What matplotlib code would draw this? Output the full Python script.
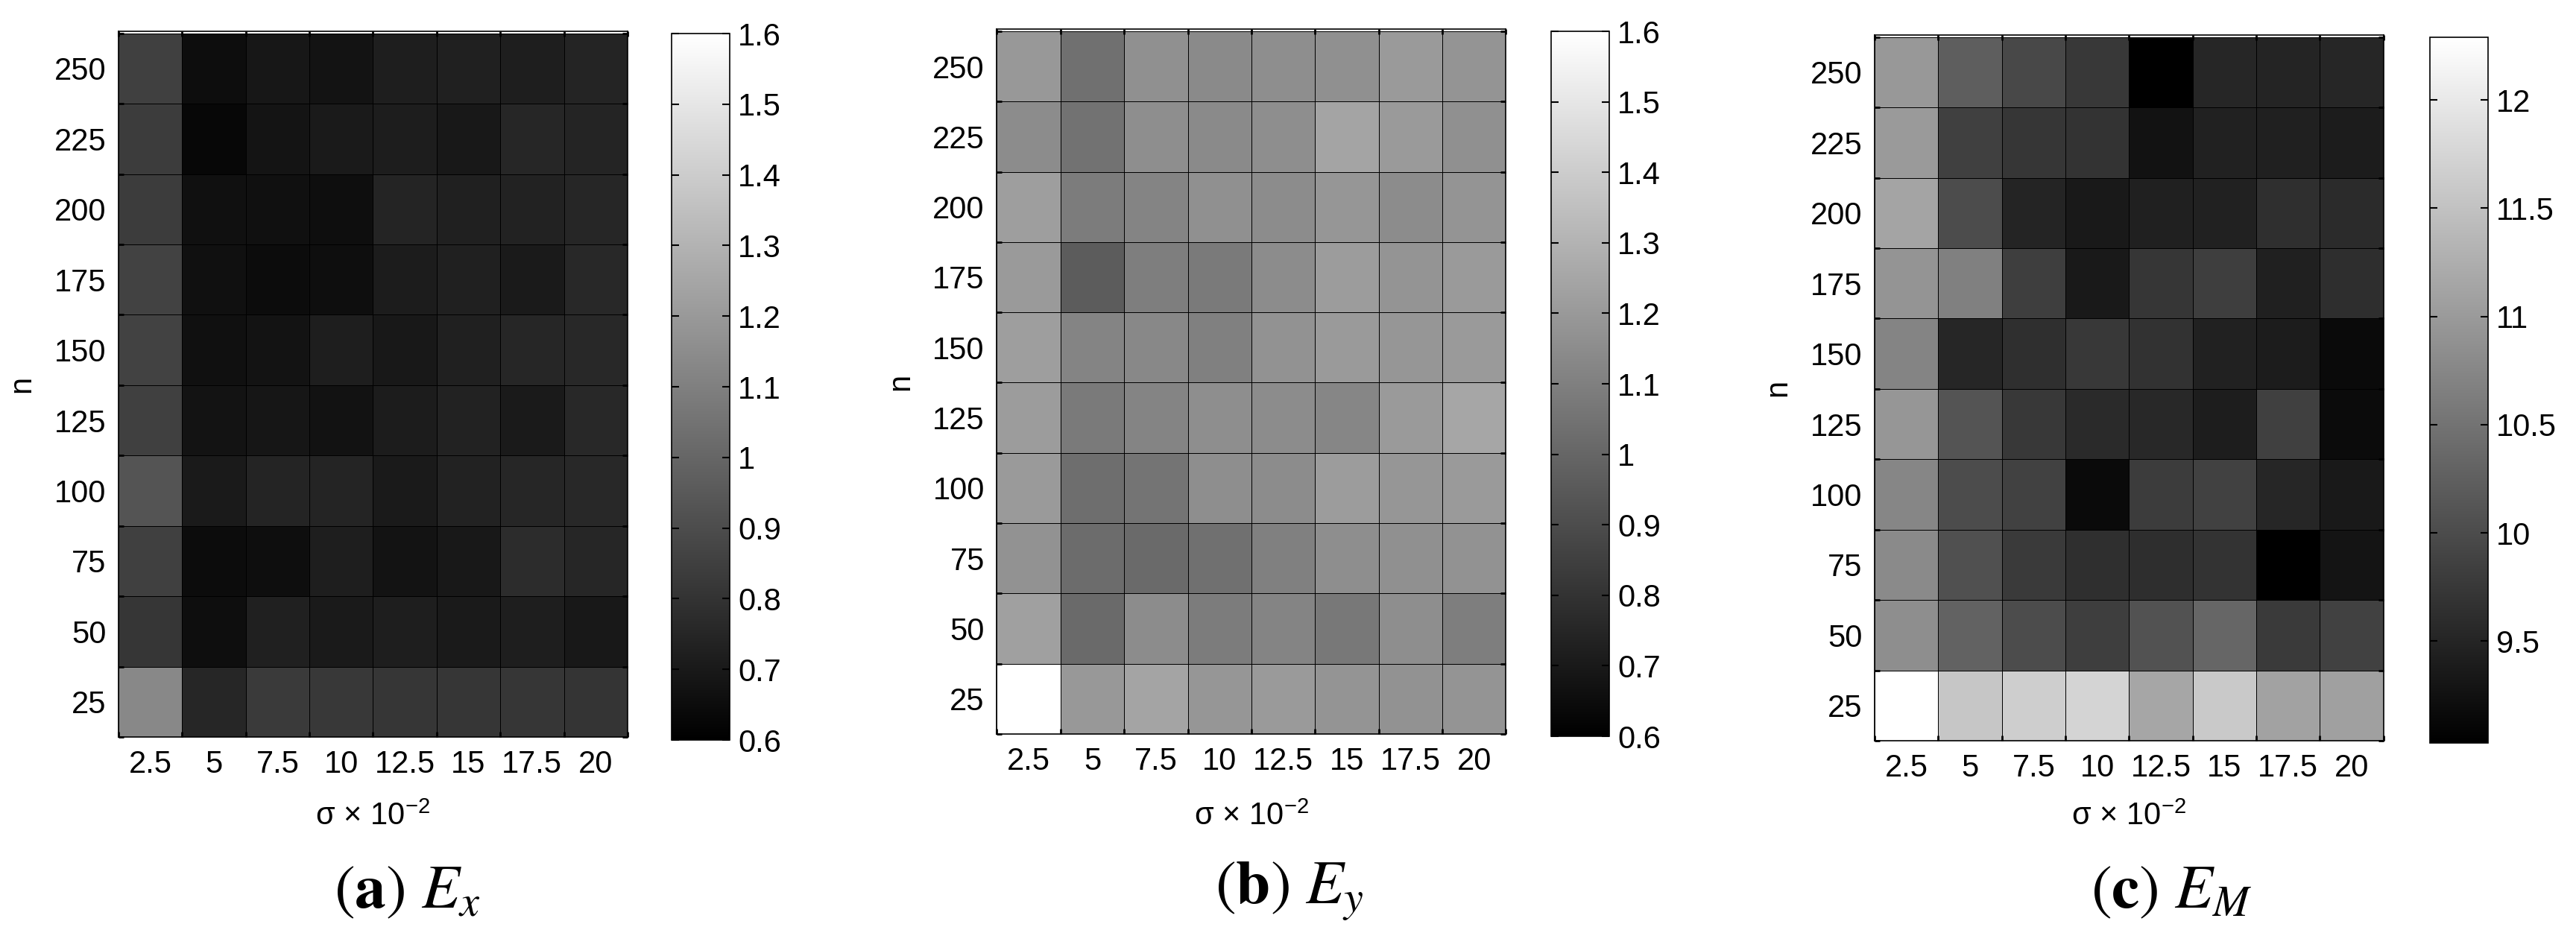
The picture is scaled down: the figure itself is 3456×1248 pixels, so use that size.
import numpy as np
import matplotlib
matplotlib.use("Agg")
import matplotlib.pyplot as plt
from matplotlib.ticker import FormatStrFormatter

plt.rcParams['font.family'] = ['Liberation Sans', 'DejaVu Sans']
plt.rcParams['mathtext.fontset'] = 'stix'

sigma_labels = ["2.5", "5", "7.5", "10", "12.5", "15", "17.5", "20"]
n_labels = ["25", "50", "75", "100", "125", "150", "175", "200", "225", "250"]

# rows: n = 25 (bottom) ... 250 (top); columns: sigma = 2.5 ... 20
ex_vals = [
    [1.133, 0.749, 0.827, 0.820, 0.812, 0.812, 0.812, 0.804],
    [0.812, 0.655, 0.725, 0.702, 0.718, 0.702, 0.718, 0.694],
    [0.851, 0.647, 0.655, 0.718, 0.678, 0.694, 0.773, 0.749],
    [0.929, 0.702, 0.741, 0.741, 0.702, 0.733, 0.749, 0.757],
    [0.851, 0.678, 0.686, 0.671, 0.710, 0.733, 0.702, 0.757],
    [0.859, 0.663, 0.678, 0.718, 0.694, 0.725, 0.749, 0.757],
    [0.859, 0.663, 0.647, 0.655, 0.710, 0.725, 0.702, 0.757],
    [0.835, 0.663, 0.663, 0.655, 0.741, 0.725, 0.733, 0.749],
    [0.835, 0.631, 0.682, 0.702, 0.714, 0.694, 0.749, 0.741],
    [0.851, 0.651, 0.690, 0.678, 0.718, 0.725, 0.718, 0.741],
]

ey_vals = [
    [1.600, 1.196, 1.243, 1.188, 1.204, 1.180, 1.173, 1.180],
    [1.227, 1.016, 1.149, 1.086, 1.118, 1.071, 1.157, 1.094],
    [1.173, 1.024, 1.016, 1.039, 1.102, 1.157, 1.165, 1.173],
    [1.204, 1.031, 1.055, 1.157, 1.149, 1.212, 1.188, 1.204],
    [1.212, 1.078, 1.118, 1.157, 1.149, 1.125, 1.204, 1.251],
    [1.220, 1.118, 1.133, 1.102, 1.173, 1.204, 1.188, 1.204],
    [1.204, 0.961, 1.094, 1.078, 1.149, 1.212, 1.180, 1.204],
    [1.220, 1.086, 1.118, 1.165, 1.149, 1.188, 1.149, 1.180],
    [1.149, 1.047, 1.157, 1.141, 1.157, 1.243, 1.204, 1.165],
    [1.196, 1.039, 1.165, 1.141, 1.157, 1.165, 1.204, 1.180],
]

em_vals = [
    [12.29, 11.56, 11.66, 11.74, 11.15, 11.59, 11.10, 11.08],
    [10.85, 10.28, 10.00, 9.82, 10.08, 10.33, 9.77, 9.87],
    [10.79, 10.05, 9.77, 9.64, 9.62, 9.69, 9.03, 9.29],
    [10.74, 10.00, 9.87, 9.16, 9.80, 9.87, 9.52, 9.36],
    [10.95, 10.10, 9.75, 9.57, 9.54, 9.41, 9.85, 9.18],
    [10.72, 9.52, 9.64, 9.75, 9.67, 9.46, 9.39, 9.16],
    [10.92, 10.67, 9.82, 9.36, 9.72, 9.82, 9.44, 9.62],
    [11.13, 10.00, 9.49, 9.36, 9.44, 9.46, 9.64, 9.59],
    [11.00, 9.85, 9.72, 9.69, 9.26, 9.46, 9.44, 9.39],
    [10.97, 10.23, 9.95, 9.75, 9.03, 9.52, 9.49, 9.52],
]

captions = [r"$(\mathbf{a})\ E_x$", r"$(\mathbf{b})\ E_y$", r"$(\mathbf{c})\ E_M$"]

fig = plt.figure(figsize=(34.56, 12.48), dpi=100)

ax_pos = [[0.046, 0.2075, 0.1976, 0.759],
          [0.387, 0.2107, 0.1976, 0.758],
          [0.7277, 0.2035, 0.1976, 0.759]]
cb_pos = [[0.2607, 0.2043, 0.0226, 0.7596],
          [0.6021, 0.2083, 0.0226, 0.758],
          [0.9433, 0.2011, 0.0226, 0.759]]
cap_x = [0.158, 0.5006, 0.843]

datasets = [np.array(ex_vals), np.array(ey_vals), np.array(em_vals)]
clims = [(0.6, 1.6), (0.6, 1.6), (None, None)]
cticks = [np.arange(0.6, 1.61, 0.1), np.arange(0.6, 1.61, 0.1), np.arange(9.5, 12.01, 0.5)]

for i, data in enumerate(datasets):
    ax = fig.add_axes(ax_pos[i])
    vmin, vmax = clims[i]
    if vmin is None:
        vmin, vmax = data.min(), data.max()
    xe = np.arange(len(sigma_labels) + 1)
    ye = np.arange(len(n_labels) + 1)
    im = ax.pcolormesh(xe, ye, data, cmap='gray', vmin=vmin, vmax=vmax,
                       edgecolors='k', linewidth=0.7)
    ax.set_xlim(0, len(sigma_labels))
    ax.set_ylim(0, len(n_labels) + 0.03)
    ax.set_xticks(np.arange(len(sigma_labels)) + 0.5)
    ax.set_xticklabels(sigma_labels)
    ax.set_yticks(np.arange(len(n_labels)) + 0.5)
    ax.set_yticklabels(n_labels)
    ax.set_xticks(xe, minor=True)
    ax.set_yticks(ye, minor=True)
    ax.tick_params(which='major', length=0, labelsize=30, pad=12)
    ax.tick_params(which='minor', direction='in', length=5, width=2,
                   top=True, right=True, bottom=True, left=True)
    for s in ax.spines.values():
        s.set_linewidth(1.2)
    ax.set_ylabel("n", fontsize=30)
    ax.yaxis.set_label_coords(-0.16, 0.5)
    fig.text(ax_pos[i][0] + ax_pos[i][2] / 2, 0.122, r"σ × 10$^{\mathregular{-2}}$",
             fontsize=30, ha='center', va='center')
    fig.text(cap_x[i], 0.041, captions[i], fontsize=60, ha='center', va='center')

    cax = fig.add_axes(cb_pos[i])
    cb = fig.colorbar(im, cax=cax)
    cb.set_ticks(cticks[i])
    cb.ax.yaxis.set_major_formatter(FormatStrFormatter('%g'))
    cb.ax.tick_params(direction='in', left=True, right=True, length=7, width=1.5,
                      labelsize=30, pad=8)
    cb.outline.set_linewidth(1.2)

fig.savefig("out.png", dpi=100)
